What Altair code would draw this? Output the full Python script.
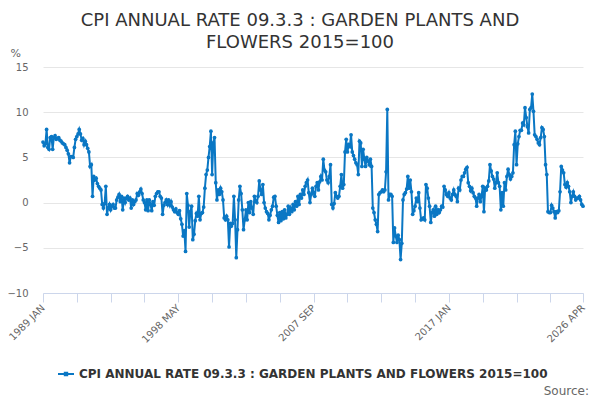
import altair as alt
import pandas as pd

# ---- data: monthly annual rate (%) ----
r1989 = [6.7, 6.3, 6.5, 8.1, 6.1, 5.9, 7.2, 7.3, 5.9, 7.2, 7.4, 7.0]
r1990 = [7.1, 7.2, 6.9, 6.8, 6.6, 6.5, 6.4, 6.1, 5.8, 5.4, 4.4, 5.1]
r1991 = [5.1, 5.0, 6.1, 7.0, 7.3, 7.6, 8.1, 7.6, 6.9, 7.1, 6.4, 6.8]
r1992 = [6.4, 6.0, 5.6, 4.0, 4.2, 0.7, 2.9, 2.5, 2.7, 2.1, 1.8, 1.6]
r1993 = [1.4, -0.2, -0.6, -0.1, 1.8, -1.3, -0.6, -0.2, -0.8, -0.4, -0.2, -0.6]
r1994 = [-0.6, 0.3, 0.6, 0.9, 0.1, 0.7, -0.8, 0.5, 0.0, 0.5, 0.7, 0.3]
r1995 = [0.5, -0.6, 0.3, -0.2, 0.1, 0.3, 1.0, 0.8, 1.2, 1.5, 1.0, 0.3]
r1996 = [0.0, -0.8, 0.3, -0.9, 0.3, -0.2, -0.9, 0.1, -0.3, 0.7, 1.0, 1.2]
r1997 = [1.2, 0.7, 0.5, -1.3, -0.3, 0.0, 0.3, -0.2, 0.3, -0.3, 0.1, -0.5]
r1998 = [-0.8, -1.0, -0.7, -1.1, -1.3, -0.9, -1.8, -2.4, -3.7, -3.1, -5.4, 1.0]
r1999 = [-0.3, -2.7, -1.0, -0.4, -4.1, -3.5, -2.0, -1.2, -1.5, 0.7, -1.9, -1.2]
r2000 = [-1.1, -0.5, 1.6, 3.1, 3.6, 5.0, 6.2, 7.9, 3.1, 6.6, 7.2, 2.2]
r2001 = [0.3, 1.4, 0.9, 1.6, 1.2, 0.3, -1.7, -1.9, -1.5, -1.9, -4.9, -2.3]
r2002 = [-2.6, -2.3, 0.7, -1.9, -6.1, -3.0, 0.3, 1.8, 1.0, -0.8, -3.0, -1.9]
r2003 = [-0.8, -1.9, 0.0, -1.1, 0.1, -0.6, -1.3, 0.7, 0.2, 0.0, 0.7, 2.4]
r2004 = [1.4, 0.9, 2.0, 0.0, -0.6, -1.0, -1.2, -1.9, -1.4, -0.8, -0.4, 0.6]
r2005 = [0.7, -0.4, -1.4, -2.2, -1.1, -2.0, -1.0, -1.8, -0.8, -1.7, -1.3, -0.4]
r2006 = [-1.3, -0.6, -1.0, -0.2, -0.8, 0.1, -0.4, 0.7, -0.2, 0.9, 0.5, 1.4]
r2007 = [0.9, 1.8, 2.2, 2.5, 1.1, 0.0, 0.9, 1.6, 1.1, 0.7, 1.8, 2.2]
r2008 = [1.4, 2.3, 2.9, 2.5, 4.8, 3.6, 3.4, 2.5, 2.2, 2.9, 4.2, -0.2]
r2009 = [-0.6, -0.1, 1.1, 0.7, 0.5, 0.7, 1.8, 3.1, 1.6, 2.0, 5.6, 7.0]
r2010 = [5.6, 6.4, 6.2, 7.5, 5.6, 5.2, 4.8, 4.4, 4.2, 3.1, 6.8, 6.6]
r2011 = [4.0, 5.9, 4.8, 4.0, 5.0, 4.6, 4.2, 4.8, 4.0, -0.6, -1.1, -1.9]
r2012 = [-2.4, -3.2, 0.9, 1.1, 1.2, 1.4, 1.2, 1.4, 3.4, 10.3, 0.3, 0.9]
r2013 = [0.9, 0.7, -4.4, -2.8, -3.7, -4.4, -3.6, -4.1, -6.3, -4.5, 0.3, 0.9]
r2014 = [1.1, 1.5, 2.9, 1.6, 2.5, 1.2, -1.3, -0.9, -0.4, 0.5, 0.1, 1.1]
r2015 = [-0.6, -1.9, -1.8, -1.7, -1.9, 2.0, 1.6, 0.5, -0.4, -2.2, -1.1, -0.8]
r2016 = [-1.5, -0.4, -1.3, -0.8, -1.1, -0.8, -0.4, -0.5, 1.8, 1.4, 0.9, 0.7]
r2017 = [1.1, 0.5, 0.3, 0.9, 1.4, 0.9, 0.7, 0.1, 1.6, 1.4, 2.5, 2.9]
r2018 = [2.9, 3.3, 3.7, 3.9, 2.2, 1.8, 1.3, 1.6, 1.1, 0.7, 0.5, -0.4]
r2019 = [0.5, 0.9, 0.1, 0.7, 1.8, -1.0, 1.6, 1.4, 1.8, 2.4, 4.2, 3.5]
r2020 = [2.9, 2.6, 1.6, 2.2, 3.3, 2.2, 1.8, -0.8, 1.1, -0.4, 2.2, 1.4]
r2021 = [2.9, 3.7, 3.1, 2.6, 2.9, 3.3, 6.4, 7.9, 4.2, 6.5, 7.3, 8.0]
r2022 = [8.0, 8.8, 8.6, 10.5, 9.4, 8.4, 7.7, 10.3, 10.5, 12.0, 10.1, 7.5]
r2023 = [7.3, 7.0, 6.6, 6.4, 7.2, 8.3, 8.1, 7.3, 4.2, 3.1, -1.0, -1.1]
r2024 = [-1.1, -0.3, -0.6, -1.0, -1.7, -1.0, -1.1, -0.9, 1.2, 4.0, 3.6, 3.3]
r2025 = [2.0, 1.7, 2.2, 1.8, 1.2, 0.0, 0.7, 1.2, 0.7, 0.3, 0.5, 0.5]
r2026 = [0.7, 0.3, -0.2, -0.4]

SERIES = "CPI ANNUAL RATE 09.3.3 : GARDEN PLANTS AND FLOWERS 2015=100"
TITLE_LINES = ["CPI ANNUAL RATE 09.3.3 : GARDEN PLANTS AND", "FLOWERS 2015=100"]
Y_TICKS = [-10, -5, 0, 5, 10, 15]
LABELLED_MONTHS = ["1989 JAN", "1998 MAY", "2007 SEP", "2017 JAN", "2026 APR"]

values = (r1989 + r1990 + r1991 + r1992 + r1993 + r1994 + r1995 + r1996 + r1997 + r1998 +
          r1999 + r2000 + r2001 + r2002 + r2003 + r2004 + r2005 + r2006 + r2007 + r2008 +
          r2009 + r2010 + r2011 + r2012 + r2013 + r2014 + r2015 + r2016 + r2017 + r2018 +
          r2019 + r2020 + r2021 + r2022 + r2023 + r2024 + r2025 + r2026)

months = pd.date_range("1989-01-01", periods=len(values), freq="MS")
month_names = [f"{d.year} {d.strftime('%b').upper()}" for d in months]
df = pd.DataFrame({"i": list(range(len(values))), "month": month_names,
                   "rate": values, "series": SERIES})

last = len(values) - 1
tick_vals = list(range(0, last - 10, 28)) + [last]
label_pos = {month_names.index(m): m for m in LABELLED_MONTHS}
expr = "''"
for pos, lab in label_pos.items():
    expr = f"datum.value == {pos} ? '{lab}' : ({expr})"

BLUE = "#0a77c4"
FONT = "DejaVu Sans"

line = alt.Chart(df).mark_line(
    strokeWidth=2,
    point=alt.OverlayMarkDef(filled=True, size=14),
).encode(
    x=alt.X("i:Q", scale=alt.Scale(domain=[0, last], nice=False, zero=False),
            axis=alt.Axis(values=tick_vals, labelExpr=expr, labelAngle=-45,
                          labelAlign="right", labelBaseline="middle",
                          labelPadding=4, labelFontSize=10, labelColor="#666666",
                          labelFont=FONT, labelOverlap=False, labelFlush=False,
                          tickSize=9, tickColor="#ccd6eb", domainColor="#ccd6eb",
                          grid=False, title=None)),
    y=alt.Y("rate:Q", scale=alt.Scale(domain=[-10, 15], nice=False, zero=False),
            axis=alt.Axis(values=Y_TICKS, ticks=False, domain=False,
                          gridColor="#e6e6e6", labelPadding=15, labelFontSize=10,
                          labelColor="#666666", labelFont=FONT,
                          title="%", titleAngle=0, titleX=-33, titleY=-14,
                          titleAlign="left", titleBaseline="middle",
                          titleFontSize=11, titleFontWeight="normal",
                          titleColor="#666666", titleFont=FONT)),
    color=alt.Color("series:N", scale=alt.Scale(range=[BLUE]),
                    legend=alt.Legend(orient="none", legendX=14, legendY=298,
                                      title=None, labelFont=FONT, labelFontSize=12,
                                      labelFontWeight="bold", labelColor="#333333",
                                      labelLimit=1000,
                                      symbolType="M-1,0H1M-0.15,-0.15H0.15V0.15H-0.15Z",
                                      symbolSize=256, symbolStrokeWidth=2)),
)

source = alt.Chart(pd.DataFrame({"t": ["Source:"]})).mark_text(
    align="right", baseline="middle", font=FONT, fontSize=12, color="#666666"
).encode(x=alt.value(546), y=alt.value(324), text="t:N")

chart = alt.layer(line, source).properties(
    width=540, height=226,
    title=alt.TitleParams(text=TITLE_LINES, fontSize=18, font=FONT,
                          fontWeight="normal", color="#333333", anchor="middle",
                          dx=-13, lineHeight=22, offset=-5),
    padding={"left": 35, "top": 59, "right": 9, "bottom": 106},
    autosize="none",
).configure_view(stroke=None)

chart.save("out.html", embed_options={"renderer": "svg", "actions": False})
